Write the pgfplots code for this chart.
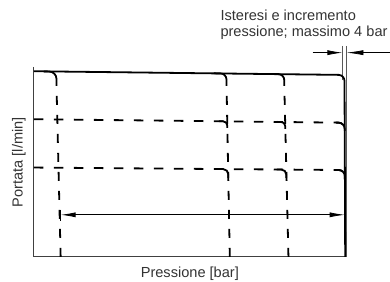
\documentclass[border=0pt]{standalone}
\usepackage{pgfplots}
\pgfplotsset{compat=1.18}
\usepackage{fontspec}
\setmainfont{Liberation Sans}
\usetikzlibrary{arrows.meta}
\begin{document}
\begin{tikzpicture}
\begin{axis}[hide axis, scale only axis, width=390pt, height=282pt,
  xmin=0, xmax=390, ymin=-282, ymax=0, clip=false]
\addplot[draw=none] coordinates {(0,0)(390,-282)};
% axis lines
\addplot[black!75, line width=1pt] coordinates {(34,-67)(34,-257)(347.5,-257)};
% double reference lines
\addplot[black!65, line width=0.6pt] coordinates {(342.7,-46)(342.7,-80)};
\addplot[black!65, line width=0.6pt] coordinates {(346.7,-46)(346.7,-257)};
% top solid curve
\addplot[black, line width=1.8pt, rounded corners=6pt] coordinates {(34,-71.3)(344.8,-75)(345.5,-257)};
% dashed verticals
\addplot[black, line width=1.8pt, dash pattern=on 9pt off 10pt] coordinates {(60.7,-257)(56.6,-88)};
\addplot[black, line width=1.8pt, rounded corners=7pt] coordinates {(44,-71.6)(56.4,-71.7)(56.6,-86)};
\addplot[black, line width=1.8pt, dash pattern=on 9pt off 10pt] coordinates {(230,-257)(226.8,-88)};
\addplot[black, line width=1.8pt, rounded corners=6pt] coordinates {(214,-73.4)(226.6,-73.5)(226.8,-86)};
\addplot[black, line width=1.8pt, dash pattern=on 9pt off 10pt] coordinates {(288.7,-257)(284.6,-88)};
\addplot[black, line width=1.8pt, rounded corners=6pt] coordinates {(272,-74.1)(284.5,-74.2)(284.6,-86)};
% dashed horizontals
\addplot[black, line width=1.8pt, dash pattern=on 9.5pt off 10.5pt, rounded corners=6pt] coordinates {(34,-119.3)(344.8,-122.8)(345.2,-134)};
\addplot[black, line width=1.8pt, rounded corners=6pt] coordinates {(336,-122.7)(344.8,-122.8)(345,-131)};
\addplot[black, line width=1.8pt, dash pattern=on 9.5pt off 10.5pt, rounded corners=6pt] coordinates {(34,-167.7)(345,-170.2)(345.3,-182)};
\addplot[black, line width=1.8pt, rounded corners=6pt] coordinates {(336,-170.1)(345,-170.2)(345.2,-179)};
% small corners where horizontals meet verticals
\addplot[black, line width=1.8pt, rounded corners=4pt] coordinates {(219,-121.4)(227.4,-121.5)(227.5,-128)};
\addplot[black, line width=1.8pt, rounded corners=4pt] coordinates {(277,-122)(285.4,-122.1)(285.5,-129)};
\addplot[black, line width=1.8pt, rounded corners=5pt] coordinates {(219,-169.2)(228.4,-169.3)(228.5,-178)};
\addplot[black, line width=1.8pt, rounded corners=5pt] coordinates {(277,-169.6)(286.5,-169.7)(286.6,-178)};
% range arrow
\addplot[black, line width=0.8pt, {Latex[length=15pt,width=5pt]}-{Latex[length=15pt,width=5pt]}] coordinates {(60.7,-215)(345,-215)};
\addplot[black, line width=1pt] coordinates {(60.2,-210.5)(60.2,-221)};
% hysteresis dimension arrows
\addplot[black, line width=0.7pt, -{Latex[length=15pt,width=5pt]}] coordinates {(313,-52.7)(342.7,-52.7)};
\addplot[black, line width=0.7pt, -{Latex[length=17pt,width=5pt]}] coordinates {(390,-52.7)(346.7,-52.7)};
% texts
\node[anchor=base west, font=\fontsize{14.6}{17}\selectfont, text=black!80, inner sep=0pt] at (axis cs:220.5,-21) {Isteresi e incremento};
\node[anchor=base west, font=\fontsize{14.6}{17}\selectfont, text=black!80, inner sep=0pt] at (axis cs:220.5,-37) {pressione; massimo 4 bar};
\node[anchor=base, font=\fontsize{14.6}{17}\selectfont, text=black!80, inner sep=0pt] at (axis cs:190,-278) {Pressione [bar]};
\node[anchor=base, rotate=90, font=\fontsize{14.6}{17}\selectfont, text=black!80, inner sep=0pt] at (axis cs:22.7,-162.5) {Portata [l/min]};
\end{axis}
\end{tikzpicture}
\end{document}
